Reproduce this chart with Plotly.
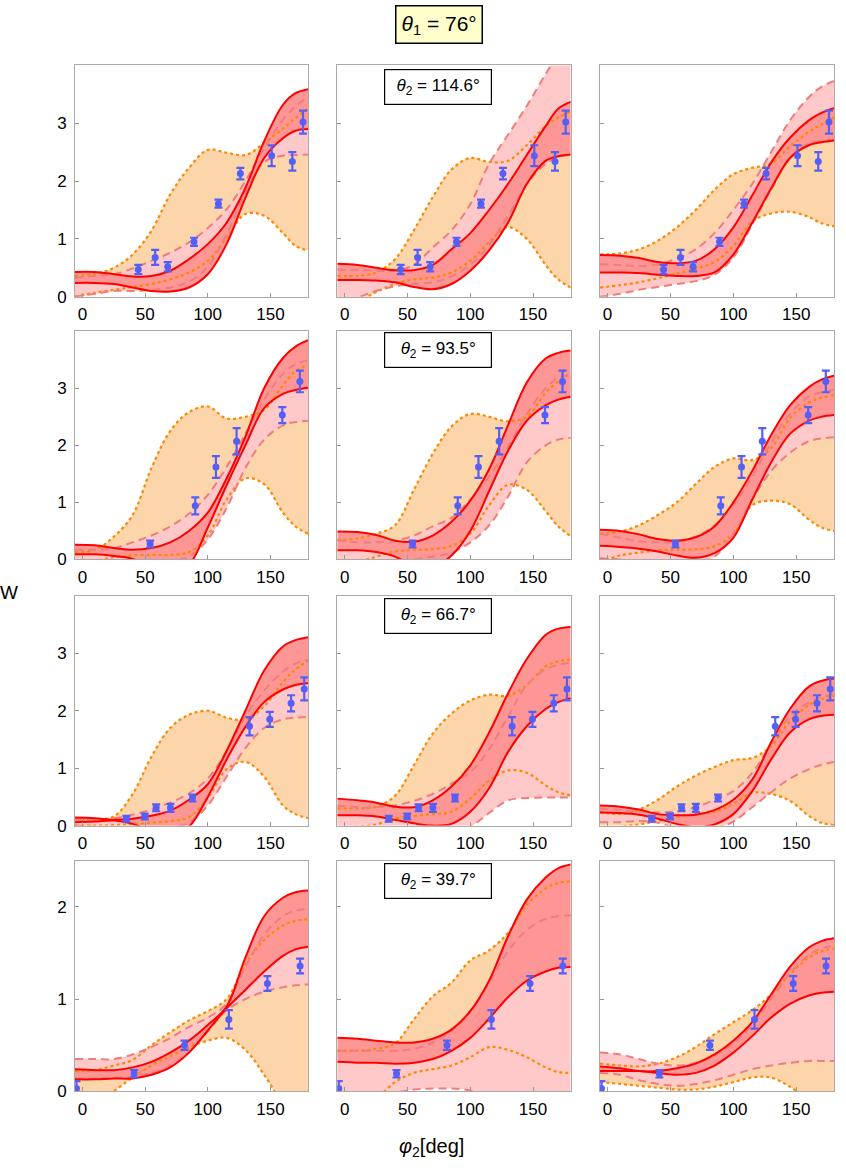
import plotly.graph_objects as go

# common phi2 grid for the model curves (deg)
PHI = [-6, 10, 25, 40, 55, 70, 85, 100, 115, 130, 145, 160, 170, 180]

# ---------------- measured points (same in each row) ----------------
row1_phi = [44.5, 58, 68, 89, 108.5, 126, 151, 167.5, 176]
row1_w = [0.47, 0.68, 0.52, 0.95, 1.61, 2.13, 2.44, 2.34, 3.02]
row1_err = [0.08, 0.13, 0.08, 0.07, 0.07, 0.10, 0.18, 0.16, 0.20]

row2_phi = [54, 90, 106.5, 123, 159.5, 173.5]
row2_w = [0.27, 0.94, 1.62, 2.07, 2.53, 3.12]
row2_err = [0.06, 0.15, 0.19, 0.23, 0.14, 0.19]

row3_phi = [35, 49.7, 58.8, 70.2, 87.8, 133.3, 149.5, 166.5, 177]
row3_w = [0.12, 0.16, 0.31, 0.31, 0.48, 1.73, 1.85, 2.13, 2.38]
row3_err = [0.05, 0.05, 0.06, 0.07, 0.06, 0.16, 0.13, 0.14, 0.20]

row4_phi = [-4.8, 41.2, 81.4, 116.8, 147.6, 173.7]
row4_w = [0.03, 0.19, 0.50, 0.78, 1.17, 1.36]
row4_err = [0.08, 0.04, 0.05, 0.10, 0.08, 0.08]

theta1_text = "76°"
theta2_texts = ["114.6°", "93.5°", "66.7°", "39.7°"]

# ---------------- model bands: o = orange (dotted), p = pink (dashed), r = red (solid) ----------------
r1c1_oh = [0.36, 0.40, 0.50, 0.73, 1.14, 1.77, 2.23, 2.54, 2.49, 2.45, 2.66, 2.91, 3.09, 3.26]
r1c1_ol = [0.00, 0.07, 0.12, 0.17, 0.22, 0.30, 0.42, 0.62, 1.02, 1.43, 1.40, 1.10, 0.88, 0.80]
r1c1_ph = [0.33, 0.36, 0.39, 0.49, 0.62, 0.76, 0.94, 1.19, 1.51, 2.00, 2.57, 3.06, 3.29, 3.46]
r1c1_pl = [0.00, 0.05, 0.10, 0.10, 0.12, 0.16, 0.26, 0.52, 1.08, 1.80, 2.33, 2.44, 2.45, 2.46]
r1c1_rh = [0.43, 0.43, 0.39, 0.35, 0.36, 0.45, 0.65, 0.91, 1.28, 1.88, 2.69, 3.32, 3.52, 3.59]
r1c1_rl = [0.24, 0.24, 0.22, 0.16, 0.10, 0.09, 0.16, 0.39, 0.91, 1.71, 2.40, 2.74, 2.87, 2.90]

r1c2_oh = [0.36, 0.36, 0.42, 0.65, 1.15, 1.72, 2.20, 2.40, 2.33, 2.35, 2.62, 2.95, 3.10, 3.20]
r1c2_ol = [-0.30, -0.10, 0.08, 0.22, 0.30, 0.33, 0.42, 0.62, 0.95, 1.20, 1.00, 0.55, 0.30, 0.16]
r1c2_ph = [0.47, 0.46, 0.45, 0.45, 0.55, 0.85, 1.15, 1.60, 2.30, 2.80, 3.30, 3.85, 4.20, 4.50]
r1c2_pl = [-0.20, -0.02, 0.10, 0.18, 0.22, 0.25, 0.35, 0.55, 0.90, 1.40, 1.95, 2.30, 2.42, 2.45]
r1c2_rh = [0.57, 0.55, 0.50, 0.46, 0.46, 0.55, 0.82, 1.10, 1.50, 1.95, 2.45, 2.95, 3.25, 3.37]
r1c2_rl = [0.29, 0.29, 0.28, 0.25, 0.17, 0.13, 0.22, 0.45, 0.80, 1.28, 1.95, 2.35, 2.43, 2.46]

r1c3_oh = [0.73, 0.75, 0.82, 0.97, 1.20, 1.50, 1.85, 2.12, 2.23, 2.30, 2.60, 2.85, 2.98, 3.10]
r1c3_ol = [0.16, 0.20, 0.25, 0.32, 0.40, 0.48, 0.60, 0.88, 1.30, 1.44, 1.47, 1.38, 1.27, 1.22]
r1c3_ph = [0.56, 0.55, 0.53, 0.56, 0.66, 0.82, 1.10, 1.50, 1.95, 2.50, 3.05, 3.45, 3.63, 3.73]
r1c3_pl = [0.00, 0.05, 0.12, 0.17, 0.22, 0.27, 0.38, 0.68, 1.25, 1.85, 2.40, 2.65, 2.70, 2.72]
r1c3_rh = [0.72, 0.71, 0.67, 0.60, 0.58, 0.62, 0.82, 1.20, 1.75, 2.32, 2.75, 3.05, 3.18, 3.26]
r1c3_rl = [0.42, 0.42, 0.41, 0.38, 0.36, 0.36, 0.42, 0.73, 1.28, 1.87, 2.40, 2.62, 2.67, 2.70]

r2c1_oh = [0.13, 0.17, 0.40, 0.78, 1.60, 2.25, 2.58, 2.68, 2.47, 2.50, 2.62, 3.05, 3.30, 3.40]
r2c1_ol = [-0.05, -0.02, 0.04, 0.07, 0.08, 0.08, 0.13, 0.42, 1.05, 1.42, 1.32, 0.82, 0.58, 0.45]
r2c1_ph = [0.17, 0.17, 0.20, 0.30, 0.42, 0.58, 0.80, 1.13, 1.62, 2.20, 2.80, 3.25, 3.42, 3.49]
r2c1_pl = [-0.05, -0.05, -0.05, -0.05, -0.05, -0.03, 0.05, 0.35, 0.90, 1.60, 2.10, 2.35, 2.41, 2.43]
r2c1_rh = [0.26, 0.25, 0.20, 0.17, 0.20, 0.30, 0.50, 0.82, 1.42, 2.15, 3.00, 3.53, 3.73, 3.84]
r2c1_rl = [0.09, 0.09, 0.06, 0.01, -0.15, -0.28, -0.10, 0.56, 1.30, 2.00, 2.65, 2.90, 2.97, 3.01]

r2c2_oh = [0.34, 0.37, 0.45, 0.60, 1.22, 1.85, 2.33, 2.55, 2.50, 2.42, 2.50, 2.92, 3.12, 3.26]
r2c2_ol = [-0.15, -0.05, 0.05, 0.14, 0.17, 0.18, 0.24, 0.45, 0.95, 1.31, 1.22, 0.85, 0.58, 0.41]
r2c2_ph = [0.34, 0.30, 0.30, 0.33, 0.42, 0.58, 0.73, 1.05, 1.45, 1.97, 2.55, 3.00, 3.18, 3.24]
r2c2_pl = [-0.20, -0.15, -0.10, -0.05, 0.00, 0.05, 0.12, 0.30, 0.60, 1.10, 1.70, 2.00, 2.10, 2.13]
r2c2_rh = [0.49, 0.48, 0.43, 0.33, 0.31, 0.42, 0.66, 1.03, 1.58, 2.35, 3.10, 3.52, 3.62, 3.66]
r2c2_rl = [0.16, 0.16, 0.13, 0.05, -0.12, -0.15, 0.07, 0.50, 1.20, 1.90, 2.43, 2.70, 2.80, 2.85]

r2c3_oh = [0.45, 0.49, 0.60, 0.78, 1.00, 1.32, 1.62, 1.77, 1.74, 1.95, 2.48, 2.75, 2.83, 2.88]
r2c3_ol = [-0.05, 0.07, 0.12, 0.16, 0.17, 0.18, 0.23, 0.45, 0.95, 1.03, 0.97, 0.70, 0.56, 0.50]
r2c3_ph = [0.45, 0.38, 0.32, 0.30, 0.31, 0.40, 0.60, 0.95, 1.45, 2.05, 2.55, 2.85, 2.93, 2.97]
r2c3_pl = [0.02, 0.00, -0.05, -0.10, -0.12, -0.10, 0.05, 0.45, 1.05, 1.55, 1.87, 2.07, 2.12, 2.14]
r2c3_rh = [0.52, 0.50, 0.44, 0.36, 0.33, 0.39, 0.58, 1.00, 1.55, 2.18, 2.70, 3.02, 3.15, 3.22]
r2c3_rl = [0.24, 0.22, 0.19, 0.14, 0.07, 0.03, 0.11, 0.38, 1.05, 1.70, 2.20, 2.43, 2.50, 2.53]

r3c1_oh = [0.12, 0.11, 0.16, 0.55, 1.20, 1.70, 1.93, 2.00, 1.88, 1.84, 2.08, 2.50, 2.72, 2.87]
r3c1_ol = [0.00, 0.00, 0.01, 0.03, 0.05, 0.08, 0.15, 0.48, 0.98, 1.11, 0.85, 0.35, 0.20, 0.13]
r3c1_ph = [0.10, 0.10, 0.13, 0.19, 0.28, 0.40, 0.56, 0.82, 1.30, 1.90, 2.35, 2.68, 2.82, 2.89]
r3c1_pl = [0.00, -0.02, -0.05, -0.05, -0.05, -0.03, 0.05, 0.35, 0.85, 1.35, 1.70, 1.85, 1.88, 1.89]
r3c1_rh = [0.14, 0.13, 0.10, 0.12, 0.17, 0.26, 0.45, 0.72, 1.30, 2.00, 2.70, 3.12, 3.23, 3.28]
r3c1_rl = [0.06, 0.07, 0.09, 0.03, -0.10, -0.18, -0.02, 0.50, 1.15, 1.72, 2.15, 2.37, 2.45, 2.48]

r3c2_oh = [0.30, 0.30, 0.33, 0.52, 1.05, 1.60, 1.95, 2.18, 2.28, 2.26, 2.45, 2.77, 2.86, 2.89]
r3c2_ol = [-0.05, -0.02, 0.02, 0.12, 0.17, 0.20, 0.24, 0.47, 0.78, 0.96, 0.92, 0.70, 0.58, 0.53]
r3c2_ph = [0.35, 0.32, 0.32, 0.35, 0.43, 0.55, 0.73, 0.93, 1.33, 1.90, 2.45, 2.72, 2.80, 2.84]
r3c2_pl = [-0.30, -0.30, -0.30, -0.30, -0.30, -0.25, -0.15, -0.02, 0.22, 0.44, 0.48, 0.49, 0.49, 0.49]
r3c2_rh = [0.47, 0.44, 0.40, 0.33, 0.32, 0.44, 0.68, 1.05, 1.62, 2.30, 2.90, 3.32, 3.43, 3.46]
r3c2_rl = [0.18, 0.18, 0.16, 0.10, 0.04, 0.00, 0.03, 0.24, 0.65, 1.28, 1.73, 2.03, 2.15, 2.22]

r3c3_oh = [0.24, 0.20, 0.28, 0.45, 0.68, 0.87, 1.02, 1.14, 1.18, 1.38, 1.82, 2.10, 2.20, 2.26]
r3c3_ol = [-0.10, -0.02, 0.02, 0.08, 0.15, 0.20, 0.24, 0.38, 0.57, 0.55, 0.43, 0.17, 0.05, 0.01]
r3c3_ph = [0.30, 0.27, 0.25, 0.23, 0.25, 0.32, 0.45, 0.60, 0.92, 1.42, 1.90, 2.15, 2.24, 2.29]
r3c3_pl = [0.06, 0.06, 0.08, 0.05, -0.05, -0.10, -0.05, 0.07, 0.32, 0.58, 0.82, 0.98, 1.06, 1.11]
r3c3_rh = [0.35, 0.33, 0.28, 0.20, 0.18, 0.19, 0.27, 0.45, 0.80, 1.45, 2.03, 2.42, 2.52, 2.56]
r3c3_rl = [0.23, 0.22, 0.19, 0.12, 0.03, -0.03, 0.02, 0.20, 0.60, 1.15, 1.62, 1.85, 1.91, 1.93]

r4c1_oh = [0.22, 0.23, 0.28, 0.34, 0.50, 0.64, 0.77, 0.87, 1.00, 1.38, 1.64, 1.80, 1.85, 1.87]
r4c1_ol = [-0.30, -0.15, 0.00, 0.15, 0.28, 0.38, 0.48, 0.55, 0.58, 0.45, 0.18, -0.15, -0.35, -0.50]
r4c1_ph = [0.35, 0.35, 0.35, 0.40, 0.48, 0.58, 0.70, 0.80, 0.95, 1.35, 1.70, 1.90, 1.96, 1.98]
r4c1_pl = [0.14, 0.14, 0.15, 0.16, 0.20, 0.28, 0.43, 0.65, 0.88, 1.00, 1.08, 1.13, 1.15, 1.16]
r4c1_rh = [0.24, 0.23, 0.23, 0.26, 0.32, 0.42, 0.55, 0.72, 0.92, 1.45, 1.90, 2.10, 2.16, 2.18]
r4c1_rl = [0.13, 0.13, 0.14, 0.14, 0.18, 0.26, 0.42, 0.66, 0.90, 1.10, 1.30, 1.47, 1.54, 1.57]

r4c2_oh = [0.44, 0.44, 0.46, 0.52, 0.78, 1.03, 1.18, 1.42, 1.53, 1.72, 2.02, 2.20, 2.26, 2.28]
r4c2_ol = [-0.30, -0.20, -0.08, 0.10, 0.20, 0.24, 0.28, 0.37, 0.48, 0.45, 0.37, 0.26, 0.21, 0.20]
r4c2_ph = [0.44, 0.44, 0.44, 0.44, 0.46, 0.53, 0.65, 0.87, 1.18, 1.52, 1.75, 1.87, 1.90, 1.91]
r4c2_pl = [-0.20, -0.15, -0.08, -0.02, 0.02, 0.03, 0.03, 0.01, -0.05, -0.12, -0.20, -0.25, -0.28, -0.30]
r4c2_rh = [0.58, 0.57, 0.55, 0.53, 0.53, 0.57, 0.67, 0.87, 1.20, 1.68, 2.08, 2.32, 2.42, 2.46]
r4c2_rl = [0.32, 0.31, 0.31, 0.30, 0.31, 0.35, 0.44, 0.58, 0.79, 1.02, 1.20, 1.30, 1.34, 1.35]

r4c3_oh = [0.30, 0.28, 0.27, 0.30, 0.37, 0.48, 0.62, 0.75, 0.88, 1.05, 1.27, 1.45, 1.52, 1.55]
r4c3_ol = [0.10, 0.08, 0.06, 0.04, 0.02, 0.02, 0.05, 0.10, 0.15, 0.15, 0.05, -0.10, -0.20, -0.30]
r4c3_ph = [0.42, 0.40, 0.35, 0.30, 0.28, 0.31, 0.39, 0.52, 0.72, 1.00, 1.28, 1.48, 1.55, 1.58]
r4c3_pl = [0.20, 0.18, 0.12, 0.08, 0.06, 0.08, 0.12, 0.18, 0.24, 0.28, 0.31, 0.33, 0.33, 0.33]
r4c3_rh = [0.27, 0.25, 0.22, 0.22, 0.25, 0.30, 0.40, 0.55, 0.75, 1.05, 1.35, 1.56, 1.63, 1.66]
r4c3_rl = [0.22, 0.22, 0.22, 0.20, 0.18, 0.20, 0.28, 0.42, 0.60, 0.80, 0.95, 1.04, 1.07, 1.08]

panels = {
    (1, 1): (r1c1_ol, r1c1_oh, r1c1_pl, r1c1_ph, r1c1_rl, r1c1_rh),
    (1, 2): (r1c2_ol, r1c2_oh, r1c2_pl, r1c2_ph, r1c2_rl, r1c2_rh),
    (1, 3): (r1c3_ol, r1c3_oh, r1c3_pl, r1c3_ph, r1c3_rl, r1c3_rh),
    (2, 1): (r2c1_ol, r2c1_oh, r2c1_pl, r2c1_ph, r2c1_rl, r2c1_rh),
    (2, 2): (r2c2_ol, r2c2_oh, r2c2_pl, r2c2_ph, r2c2_rl, r2c2_rh),
    (2, 3): (r2c3_ol, r2c3_oh, r2c3_pl, r2c3_ph, r2c3_rl, r2c3_rh),
    (3, 1): (r3c1_ol, r3c1_oh, r3c1_pl, r3c1_ph, r3c1_rl, r3c1_rh),
    (3, 2): (r3c2_ol, r3c2_oh, r3c2_pl, r3c2_ph, r3c2_rl, r3c2_rh),
    (3, 3): (r3c3_ol, r3c3_oh, r3c3_pl, r3c3_ph, r3c3_rl, r3c3_rh),
    (4, 1): (r4c1_ol, r4c1_oh, r4c1_pl, r4c1_ph, r4c1_rl, r4c1_rh),
    (4, 2): (r4c2_ol, r4c2_oh, r4c2_pl, r4c2_ph, r4c2_rl, r4c2_rh),
    (4, 3): (r4c3_ol, r4c3_oh, r4c3_pl, r4c3_ph, r4c3_rl, r4c3_rh),
}
rows_data = {
    1: (row1_phi, row1_w, row1_err),
    2: (row2_phi, row2_w, row2_err),
    3: (row3_phi, row3_w, row3_err),
    4: (row4_phi, row4_w, row4_err),
}

# ---------------- styling ----------------
W, H = 846, 1175
XD = [[75 / W, 308 / W], [337.3 / W, 570.7 / W], [600 / W, 834 / W]]
YD = [[1 - 299.3 / H, 1 - 66 / H], [1 - 564.3 / H, 1 - 334 / H],
      [1 - 832.7 / H, 1 - 601 / H], [1 - 1100.7 / H, 1 - 868.3 / H]]
YR = {1: [0, 4.0], 2: [0, 4.0], 3: [0, 4.0], 4: [0, 2.5]}
YT = {1: [0, 1, 2, 3], 2: [0, 1, 2, 3], 3: [0, 1, 2, 3], 4: [0, 1, 2]}

FILL_O = "rgb(252,213,171)"
FILL_P = "rgb(255,201,201)"
FILL_R = "rgb(255,150,150)"
LINE_O = dict(color="rgb(255,135,0)", width=2.2, dash="dot")
LINE_P = dict(color="rgb(240,125,125)", width=2, dash="8px,5px")
LINE_R = dict(color="rgb(255,0,0)", width=2)
PT_COL = "rgb(85,95,245)"
FONT = "Liberation Sans, Arial, sans-serif"

fig = go.Figure()
layout = {}

for (r, c), (ol, oh, pl, ph, rl, rh) in panels.items():
    k = (r - 1) * 3 + c
    xa = "x" if k == 1 else f"x{k}"
    ya = "y" if k == 1 else f"y{k}"
    common = dict(x=PHI, xaxis=xa, yaxis=ya, mode="lines", showlegend=False, hoverinfo="skip")
    # fills
    for lo, hi, fc in ((ol, oh, FILL_O), (pl, ph, FILL_P), (rl, rh, FILL_R)):
        fig.add_trace(go.Scatter(y=lo, line=dict(width=0, shape="spline"), **common))
        fig.add_trace(go.Scatter(y=hi, line=dict(width=0, shape="spline"), fill="tonexty",
                                 fillcolor=fc, **common))
    # lines on top
    for yy, ls in ((ol, LINE_O), (oh, LINE_O), (pl, LINE_P), (ph, LINE_P), (rl, LINE_R), (rh, LINE_R)):
        fig.add_trace(go.Scatter(y=yy, line=dict(shape="spline", **ls), **common))
    # points
    px, py, pe = rows_data[r]
    fig.add_trace(go.Scatter(x=px, y=py, xaxis=xa, yaxis=ya, mode="markers", showlegend=False,
                             marker=dict(color=PT_COL, size=7),
                             error_y=dict(type="data", array=pe, color=PT_COL, thickness=2.2, width=4)))

    xname = "xaxis" if k == 1 else f"xaxis{k}"
    yname = "yaxis" if k == 1 else f"yaxis{k}"
    layout[xname] = dict(domain=XD[c - 1], anchor=ya, range=[-6, 180], tickvals=[0, 50, 100, 150],
                         ticks="inside", ticklen=4, tickcolor="#999", showline=True, linecolor="#aaa",
                         linewidth=1, mirror=True, showgrid=False, zeroline=False,
                         tickfont=dict(family=FONT, size=17, color="black"), ticklabelstandoff=2)
    layout[yname] = dict(domain=YD[r - 1], anchor=xa, range=YR[r], tickvals=YT[r],
                         ticks="inside", ticklen=4, tickcolor="#999", showline=True, linecolor="#aaa",
                         linewidth=1, mirror=True, showgrid=False, zeroline=False,
                         showticklabels=(c == 1), ticklabelstandoff=4,
                         tickfont=dict(family=FONT, size=17, color="black"))

annotations = [
    dict(text=f"<i>θ</i><sub>1</sub> = {theta1_text}", x=438.5 / W, y=1 - 25 / H, xref="paper", yref="paper",
         showarrow=False, font=dict(family="Liberation Sans Narrow, " + FONT, size=21, color="black"),
         bgcolor="#ffffcc", bordercolor="black", borderwidth=1.5, borderpad=5,
         xanchor="center", yanchor="middle"),
    dict(text="W", x=9 / W, y=1 - 598 / H, xref="paper", yref="paper", showarrow=False,
         font=dict(family=FONT, size=19, color="black"), xanchor="center", yanchor="middle"),
    dict(text="<i>φ</i><sub>2</sub>[deg]", x=432 / W, y=1 - 1157 / H, xref="paper", yref="paper",
         showarrow=False, font=dict(family=FONT, size=20, color="black"), xanchor="center", yanchor="middle"),
]
box_y = [87.5, 353, 621, 888.5]
for i, t in enumerate(theta2_texts):
    annotations.append(dict(text=f"<i>θ</i><sub>2</sub> = {t}", x=437.5 / W, y=1 - box_y[i] / H,
                            xref="paper", yref="paper", showarrow=False,
                            font=dict(family=FONT, size=17, color="black"),
                            bgcolor="white", bordercolor="black", borderwidth=1.2, borderpad=3,
                            width=100, height=28, xanchor="center", yanchor="middle"))

fig.update_layout(width=W, height=H, margin=dict(l=0, r=0, t=0, b=0), paper_bgcolor="white",
                  plot_bgcolor="white", annotations=annotations, **layout)
fig.write_html("out.html")
